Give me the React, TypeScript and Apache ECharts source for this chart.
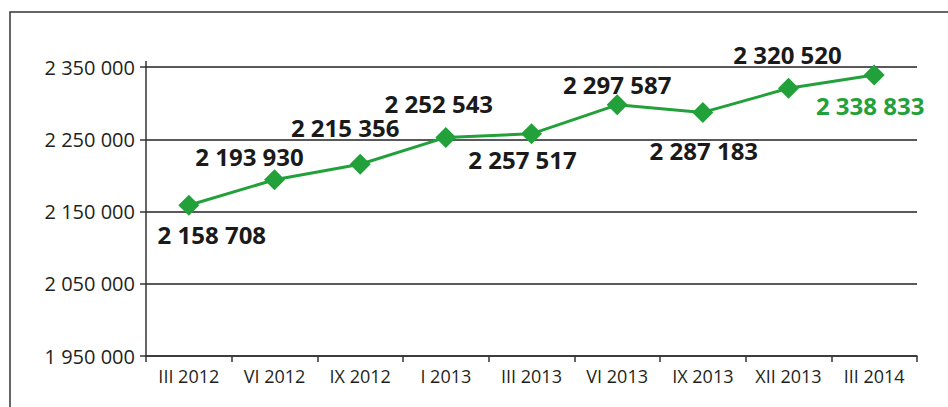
import React, { useEffect, useRef } from "react";
import * as echarts from "echarts";

const categories = ["III 2012", "VI 2012", "IX 2012", "I 2013", "III 2013", "VI 2013", "IX 2013", "XII 2013", "III 2014"];
const values = [2158708, 2193930, 2215356, 2252543, 2257517, 2297587, 2287183, 2320520, 2338833];
const labelOffsets: [number, number][] = [
  [23, 29], [-25, -23], [-15, -37], [-7, -34], [-9, 26], [0, -20], [1, 38], [-1, -34], [-4, 30],
];
const yMin = 1950000;
const yMax = 2350000;
const yStep = 100000;

const fmt = (v: number) => String(v).replace(/\B(?=(\d{3})+(?!\d))/g, " ");

export default function App() {
  const ref = useRef<HTMLDivElement>(null);
  useEffect(() => {
    if (!ref.current) return;
    const chart = echarts.init(ref.current, undefined, { renderer: "svg" });
    const green = "#22a13a";
    chart.setOption({
      animation: false,
      backgroundColor: "#ffffff",
      grid: { left: 146, right: 31, top: 67, bottom: 51 },
      graphic: [
        {
          type: "rect",
          shape: { x: 10, y: 12, width: 1000, height: 1000 },
          style: { fill: "none", stroke: "#333", lineWidth: 1.5 },
          silent: true,
        },
        {
          type: "line",
          shape: { x1: 146, y1: 61, x2: 146, y2: 67 },
          style: { stroke: "#333", lineWidth: 1.5 },
          silent: true,
        },
      ],
      xAxis: {
        type: "category",
        data: categories,
        boundaryGap: true,
        axisLine: { lineStyle: { color: "#333", width: 1.5 } },
        axisTick: { show: true, length: 6, interval: 0, lineStyle: { color: "#333", width: 1.5 } },
        axisLabel: { color: "#231f20", fontFamily: "Open Sans", fontSize: 18, margin: 11, interval: 0, hideOverlap: false },
        splitLine: { show: false },
      },
      yAxis: {
        type: "value",
        min: yMin,
        max: yMax,
        interval: yStep,
        axisLine: { show: true, lineStyle: { color: "#333", width: 1.5 } },
        axisTick: { show: true, length: 6, lineStyle: { color: "#333", width: 1.5 } },
        axisLabel: { color: "#231f20", fontFamily: "Open Sans", fontSize: 20, margin: 11, formatter: (v: number) => fmt(v) },
        splitLine: { show: true, lineStyle: { color: "#222", width: 1.5 } },
      },
      series: [
        {
          type: "line",
          data: values.map((v, i) => ({
            value: v,
            label: {
              show: true,
              position: "inside",
              offset: labelOffsets[i],
              color: i === values.length - 1 ? green : "#1a1a1a",
              fontFamily: "Open Sans",
              fontWeight: "bold",
              fontSize: 24,
              formatter: () => fmt(v),
            },
          })),
          symbol: "diamond",
          symbolSize: 21,
          itemStyle: { color: green },
          lineStyle: { color: green, width: 3 },
        },
      ],
    });
    return () => chart.dispose();
  }, []);
  return <div ref={ref} style={{ position: "fixed", left: 0, top: 0, width: 948, height: 407 }} />;
}
